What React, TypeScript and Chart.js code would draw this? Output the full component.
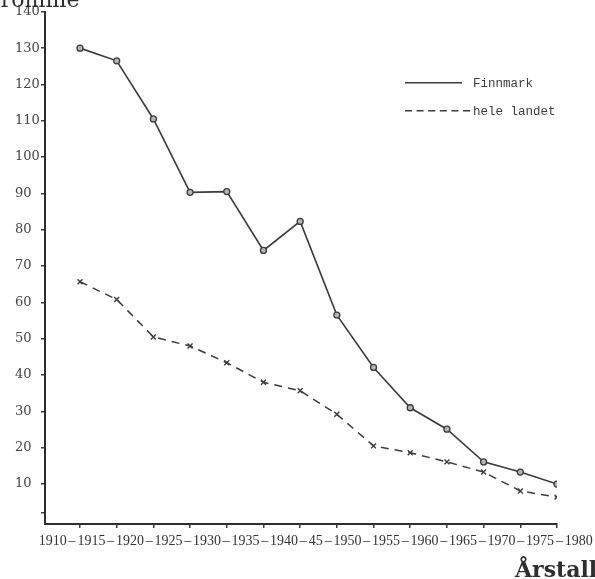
import React, { useEffect, useRef } from 'react';
import { Chart, registerables } from 'chart.js';

Chart.register(...registerables);

// ---- data ----
const periods = [
  '1910–1915', '1915–1920', '1920–1925', '1925–1930', '1930–1935', '1935–1940', '1940–1945',
  '1945–1950', '1950–1955', '1955–1960', '1960–1965', '1965–1970', '1970–1975', '1975–1980',
];
const finnmark = [130, 126.5, 110.5, 90.3, 90.5, 74.3, 82.3, 56.5, 42.1, 31, 25.1, 16.1, 13.3, 10];
const heleLandet = [65.7, 60.8, 50.5, 48, 43.4, 38, 35.7, 29.2, 20.5, 18.6, 16.1, 13.3, 8.1, 6.4];
const seriesNames = ['Finnmark', 'hele landet'];
const yTickValues = [10, 20, 30, 40, 50, 60, 70, 80, 90, 100, 110, 120, 130, 140];
const yUnlabeledTicks = [2];
const xTickLabels = ['1910', '1915', '1920', '1925', '1930', '1935', '1940', '45', '1950', '1955', '1960', '1965', '1970', '1975', '1980'];
const yTitle = 'Promille';
const xTitle = 'Årstall';

// ---- layout helpers for the typed-out year string under the axis ----
const CHAR_UNIT = 0.185; // width of one character in x-units
const GAP = 0.31; // space taken by a dash between years
const START = -0.74; // centre of the first year label
function buildYearTicks() {
  const out: { value: number; text: string }[] = [];
  let pos = START;
  xTickLabels.forEach((lab, k) => {
    const w = lab.length * CHAR_UNIT;
    if (k > 0) {
      const prevW = xTickLabels[k - 1].length * CHAR_UNIT;
      pos += prevW / 2 + GAP + w / 2;
    }
    out.push({ value: pos, text: lab });
    if (k < xTickLabels.length - 1) out.push({ value: pos + w / 2 + GAP / 2, text: '–' });
  });
  return out.sort((a, b) => a.value - b.value);
}

const INK = '#3b3b3b';

const legendPlugin = {
  id: 'sideLegend',
  afterDatasetsDraw(chart: any) {
    const { ctx, chartArea } = chart;
    const x0 = chartArea.right - 152;
    const rows = [
      { y: chartArea.top + 71, len: 57 },
      { y: chartArea.top + 99, len: 65 },
    ];
    ctx.save();
    chart.data.datasets.forEach((ds: any, i: number) => {
      const r = rows[i];
      ctx.beginPath();
      ctx.strokeStyle = ds.borderColor;
      ctx.lineWidth = 1.6;
      ctx.setLineDash(ds.borderDash && ds.borderDash.length ? [7, 4.6] : []);
      ctx.moveTo(x0, r.y);
      ctx.lineTo(x0 + r.len, r.y);
      ctx.stroke();
      ctx.setLineDash([]);
      ctx.fillStyle = INK;
      ctx.font = '12.5px "Liberation Mono"';
      ctx.textBaseline = 'middle';
      ctx.textAlign = 'left';
      ctx.fillText(ds.label, x0 + 68, r.y + 1);
    });
    ctx.restore();
  },
};

const titlesPlugin = {
  id: 'axisTitles',
  afterDraw(chart: any) {
    const { ctx, chartArea } = chart;
    ctx.save();
    ctx.fillStyle = '#2e2e2e';
    ctx.textAlign = 'left';
    ctx.textBaseline = 'alphabetic';
    ctx.font = 'bold 22px "DejaVu Serif"';
    ctx.fillText(xTitle, chartArea.right - 42, chart.height - 2);
    ctx.font = '22px "DejaVu Serif"';
    ctx.fillText(yTitle, chartArea.left - 59, chartArea.top - 5);
    ctx.restore();
  },
};

export default function App() {
  const ref = useRef<HTMLCanvasElement>(null);
  useEffect(() => {
    if (!ref.current) return;
    const chart = new Chart(ref.current, {
      type: 'line',
      data: {
        datasets: [
          {
            label: seriesNames[0],
            data: periods.map((_, i) => ({ x: i, y: finnmark[i] })),
            borderColor: INK,
            borderWidth: 1.6,
            tension: 0,
            pointStyle: 'circle',
            pointRadius: 3,
            pointBorderWidth: 1.3,
            pointBorderColor: INK,
            pointBackgroundColor: '#b5b5b5',
          },
          {
            label: seriesNames[1],
            data: periods.map((_, i) => ({ x: i, y: heleLandet[i] })),
            borderColor: INK,
            borderWidth: 1.5,
            borderDash: [8, 6],
            tension: 0,
            pointStyle: 'crossRot',
            pointRadius: 3.5,
            pointBorderWidth: 1.4,
            pointBorderColor: INK,
            pointBackgroundColor: INK,
          },
        ],
      },
      options: {
        animation: false,
        responsive: true,
        maintainAspectRatio: false,
        layout: { padding: { left: 15, top: 11, right: 38, bottom: 27 } },
        plugins: { legend: { display: false }, tooltip: { enabled: false } },
        scales: {
          x: {
            type: 'linear',
            min: -0.954,
            max: periods.length - 1,
            bounds: 'data',
            afterBuildTicks: (s: any) => {
              s.ticks = periods.map((_, i) => ({ value: i }));
            },
            afterFit: (s: any) => {
              s.height = 4;
              s.paddingLeft = 0;
              s.paddingRight = 0;
            },
            ticks: { display: false, autoSkip: false },
            grid: { drawOnChartArea: false, drawTicks: true, tickLength: 4, color: INK, lineWidth: 1.5 },
            border: { color: '#2e2e2e', width: 2 },
          },
          x2: {
            type: 'linear',
            position: 'bottom',
            weight: 1,
            min: -0.954,
            max: periods.length - 1,
            bounds: 'data',
            afterBuildTicks: (s: any) => {
              s.ticks = buildYearTicks();
            },
            afterFit: (s: any) => {
              s.height = 24;
              s.paddingLeft = 0;
              s.paddingRight = 0;
            },
            ticks: {
              autoSkip: false,
              maxRotation: 0,
              padding: 5,
              color: '#333',
              font: { family: 'Liberation Serif', size: 14 },
              callback: (_v: any, i: number, ticks: any[]) => ticks[i].text,
            },
            grid: { display: false, drawTicks: false },
            border: { display: false },
          },
          y: {
            type: 'linear',
            min: -1,
            max: 140,
            afterBuildTicks: (s: any) => {
              s.ticks = [...yUnlabeledTicks, ...yTickValues].sort((a, b) => a - b).map((v) => ({ value: v }));
            },
            afterFit: (s: any) => {
              s.width = 30;
            },
            ticks: {
              autoSkip: false,
              crossAlign: 'far',
              padding: 4,
              color: '#444',
              font: { family: 'DejaVu Serif', size: 13 },
              callback: (v: any) => (yTickValues.includes(v) ? String(v) : ''),
            },
            grid: { drawOnChartArea: false, tickLength: 4, color: INK, lineWidth: 1.5 },
            border: { color: '#2e2e2e', width: 2 },
          },
        },
      } as any,
      plugins: [legendPlugin, titlesPlugin],
    });
    return () => chart.destroy();
  }, []);
  return (
    <div style={{ position: 'fixed', left: 0, top: 0, width: 595, height: 579, background: '#fff' }}>
      <canvas ref={ref} />
    </div>
  );
}
